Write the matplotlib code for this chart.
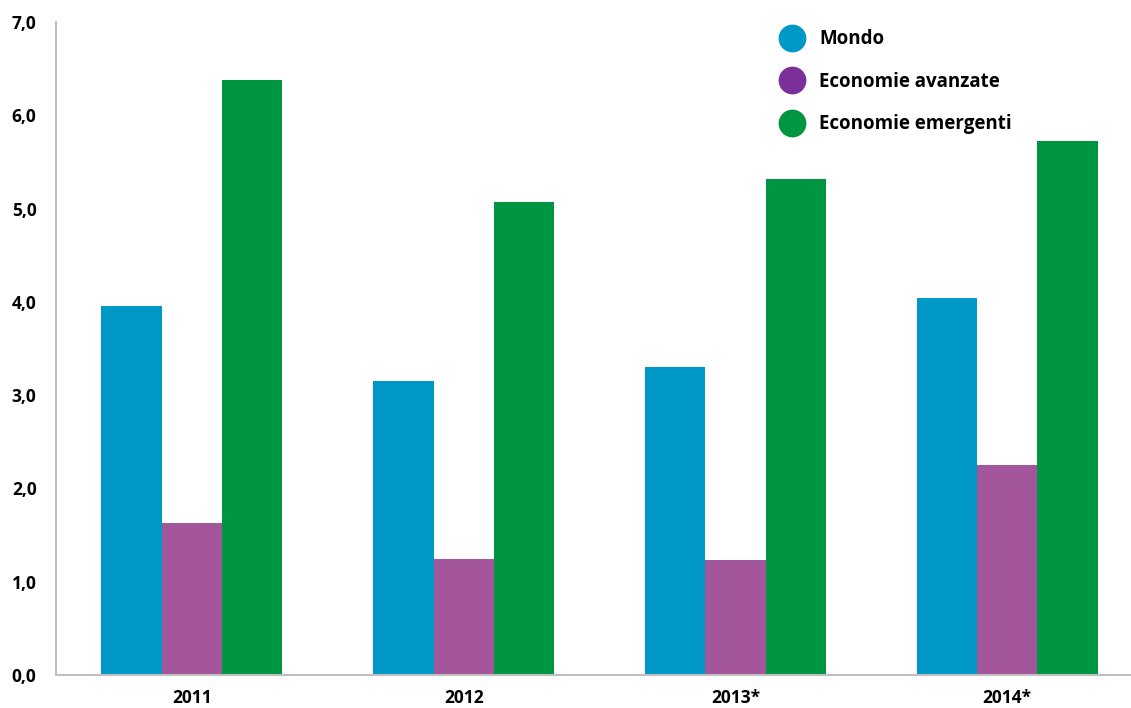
import numpy as np
import matplotlib.pyplot as plt
from matplotlib.lines import Line2D

plt.rcParams['font.family'] = ['Open Sans', 'DejaVu Sans']

years = ["2011", "2012", "2013*", "2014*"]
mondo = [3.95, 3.15, 3.30, 4.04]
avanzate = [1.63, 1.24, 1.23, 2.25]
emergenti = [6.38, 5.07, 5.32, 5.72]

series = ["Mondo", "Economie avanzate", "Economie emergenti"]
bar_colors = ["#0098c6", "#a3569b", "#009540"]
legend_colors = ["#0098c6", "#7a2f9a", "#009540"]

fig = plt.figure(figsize=(11.31, 7.08), dpi=100)
ax = fig.add_axes([0.0495, 0.0466, 0.9505, 0.9224])

x = np.arange(len(years))
w = 0.222
for i, vals in enumerate([mondo, avanzate, emergenti]):
    ax.bar(x + (i - 1) * w, vals, w, color=bar_colors[i], edgecolor="none")

ax.set_xlim(-0.5, 3.455)
ax.set_ylim(0, 7)
ax.set_yticks(np.arange(0, 8, 1))
ax.set_yticklabels([f"{v:.1f}".replace(".", ",") for v in range(8)],
                   fontsize=12.5, fontweight="bold")
ax.set_xticks(x)
ax.set_xticklabels(years, fontsize=12.5, fontweight="bold")
ax.tick_params(axis="both", length=0)
ax.tick_params(axis="y", pad=14)
ax.tick_params(axis="x", pad=10)

for s in ["top", "right"]:
    ax.spines[s].set_visible(False)
for s in ["left", "bottom"]:
    ax.spines[s].set_color("#c0c0c0")
    ax.spines[s].set_linewidth(1.5)

handles = [Line2D([], [], marker="o", linestyle="none", markersize=20,
                  markerfacecolor=c, markeredgecolor="none") for c in legend_colors]
leg = ax.legend(handles, series, loc="upper left", bbox_to_anchor=(0.66, 1.0),
                frameon=False, fontsize=13.5, labelspacing=1.2, handletextpad=0.45,
                borderaxespad=0.0)
for t in leg.get_texts():
    t.set_fontweight("bold")

fig.savefig("out.png", dpi=100)
